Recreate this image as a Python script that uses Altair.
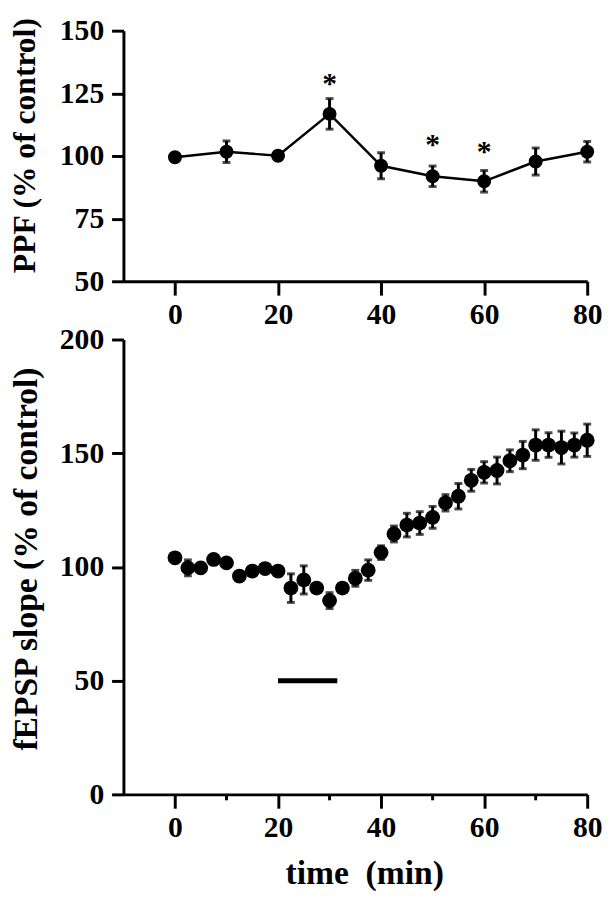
import altair as alt
import pandas as pd

# ---- Top panel: paired-pulse facilitation ----
ppf_time = [0, 10, 20, 30, 40, 50, 60, 70, 80]
ppf_mean = [99.5, 101.7, 100.1, 116.8, 96.1, 91.9, 89.9, 97.8, 101.7]
ppf_sem = [1.5, 4.3, 1.0, 6.1, 5.2, 4.1, 4.3, 5.4, 4.1]
star_time = [30, 50, 60]
star_level = [125, 100.8, 98]

# ---- Bottom panel: fEPSP slope ----
slope_time = [0, 2.5, 5, 7.5, 10, 12.5, 15, 17.5, 20, 22.5, 25, 27.5, 30, 32.5,
              35, 37.5, 40, 42.5, 45, 47.5, 50, 52.5, 55, 57.5, 60, 62.5, 65,
              67.5, 70, 72.5, 75, 77.5, 80]
slope_mean = [104, 99.6, 99.6, 103.3, 101.8, 96, 98.2, 99.3, 98.2, 90.7, 94.3,
              90.7, 85.2, 90.7, 95, 98.6, 106.3, 114.5, 118.4, 119.3, 121.8,
              128.2, 131.1, 138.1, 141.6, 142.4, 146.7, 149.2, 153.6, 153.6,
              152.5, 153.6, 155.7]
slope_sem = [1.5, 3.5, 1.5, 1.5, 1.5, 1.5, 1.5, 1.5, 1.5, 6.3, 6.2, 1.5, 3.5,
             1.5, 3.5, 4.5, 3, 3.5, 5.2, 5, 4.8, 3.6, 5.6, 4.8, 4.7, 5.9, 4.8,
             6, 6.7, 5.4, 7.2, 5.3, 7.1]
minor_ticks = [10, 30, 50, 70]
drug_start = [20]
drug_end = [31.5]
drug_level = [50]

FONT = "Liberation Serif"

ppf = pd.DataFrame({"t": ppf_time, "m": ppf_mean, "s": ppf_sem})
ppf["lo"] = ppf["m"] - ppf["s"]
ppf["hi"] = ppf["m"] + ppf["s"]
stars = pd.DataFrame({"t": star_time, "y": star_level, "txt": ["*"] * len(star_time)})

slope = pd.DataFrame({"t": slope_time, "m": slope_mean, "s": slope_sem})
slope["lo"] = slope["m"] - slope["s"]
slope["hi"] = slope["m"] + slope["s"]
minor = pd.DataFrame({"t": minor_ticks})
drug = pd.DataFrame({"a": drug_start, "b": drug_end, "y": drug_level})

xscale = alt.Scale(domain=[-10, 80], nice=False, zero=False)


def xaxis(title):
    kw = dict(values=[0, 20, 40, 60, 80], tickSize=14, labelPadding=5,
              format="d")
    if title:
        kw.update(title=title, titlePadding=14, titleFontSize=34, titleX=244)
    else:
        kw.update(title=None)
    return alt.Axis(**kw)


def yaxis(values, title, size, ty):
    return alt.Axis(values=values, tickSize=12, labelPadding=8, title=title,
                    titlePadding=50 - size, titleFontSize=size, titleY=ty)


# top panel
ppf_y = alt.Scale(domain=[50, 150], nice=False, zero=False)
top_base = alt.Chart(ppf)
top_line = top_base.mark_line(color="black", strokeWidth=2.5).encode(
    x=alt.X("t:Q", scale=xscale, axis=xaxis(None)),
    y=alt.Y("m:Q", scale=ppf_y,
            axis=yaxis([50, 75, 100, 125, 150], "PPF (% of control)", 32, 116)))
top_err = top_base.mark_rule(color="black", strokeWidth=3).encode(
    x="t:Q", y="lo:Q", y2="hi:Q")
top_cap_hi = top_base.mark_tick(color="black", orient="horizontal", size=8,
                                thickness=3).encode(x="t:Q", y="hi:Q")
top_cap_lo = top_base.mark_tick(color="black", orient="horizontal", size=8,
                                thickness=3).encode(x="t:Q", y="lo:Q")
top_pts = top_base.mark_point(shape="circle", filled=True, opacity=1,
                              color="black", size=200).encode(x="t:Q", y="m:Q")
top_stars = alt.Chart(stars).mark_text(font=FONT, fontWeight="bold", fontSize=30,
                                       baseline="alphabetic", color="black").encode(
    x="t:Q", y="y:Q", text="txt:N")
top = alt.layer(top_line, top_err, top_cap_hi, top_cap_lo, top_pts,
                top_stars).properties(width=470, height=254)

# bottom panel
slope_y = alt.Scale(domain=[0, 200], nice=False, zero=False)
bot_base = alt.Chart(slope)
bot_err = bot_base.mark_rule(color="black", strokeWidth=3).encode(
    x=alt.X("t:Q", scale=xscale, axis=xaxis("time\u00a0 (min)")),
    y=alt.Y("lo:Q", scale=slope_y,
            axis=yaxis([0, 50, 100, 150, 200], "fEPSP slope (% of control)",
                       34, 222)),
    y2="hi:Q")
bot_cap_hi = bot_base.mark_tick(color="black", orient="horizontal", size=8,
                                thickness=3).encode(x="t:Q", y="hi:Q")
bot_cap_lo = bot_base.mark_tick(color="black", orient="horizontal", size=8,
                                thickness=3).encode(x="t:Q", y="lo:Q")
bot_pts = bot_base.mark_point(shape="circle", filled=True, opacity=1,
                              color="black", size=225).encode(x="t:Q", y="m:Q")
bot_minor = alt.Chart(minor).mark_rule(color="black", strokeWidth=3).encode(
    x="t:Q", y=alt.value(461), y2=alt.value(467))
bot_drug = alt.Chart(drug).mark_rule(color="black", strokeWidth=5).encode(
    x="a:Q", x2="b:Q", y="y:Q")
bottom = alt.layer(bot_err, bot_cap_hi, bot_cap_lo, bot_pts, bot_minor,
                   bot_drug).properties(width=470, height=461)

chart = alt.vconcat(top, bottom, spacing=59, bounds="flush").properties(
    padding={"left": 0, "top": 2, "right": 0, "bottom": 0},
    background="white",
).configure_view(stroke=None).configure_axis(
    grid=False,
    domainColor="black", domainWidth=3,
    tickColor="black", tickWidth=3,
    labelColor="black", labelFont=FONT, labelFontWeight="bold", labelFontSize=30,
    titleColor="black", titleFont=FONT, titleFontWeight="bold", titleFontSize=32,
    labelFlush=False,
)

chart.save("out.html", embed_options={"renderer": "svg", "actions": False})
